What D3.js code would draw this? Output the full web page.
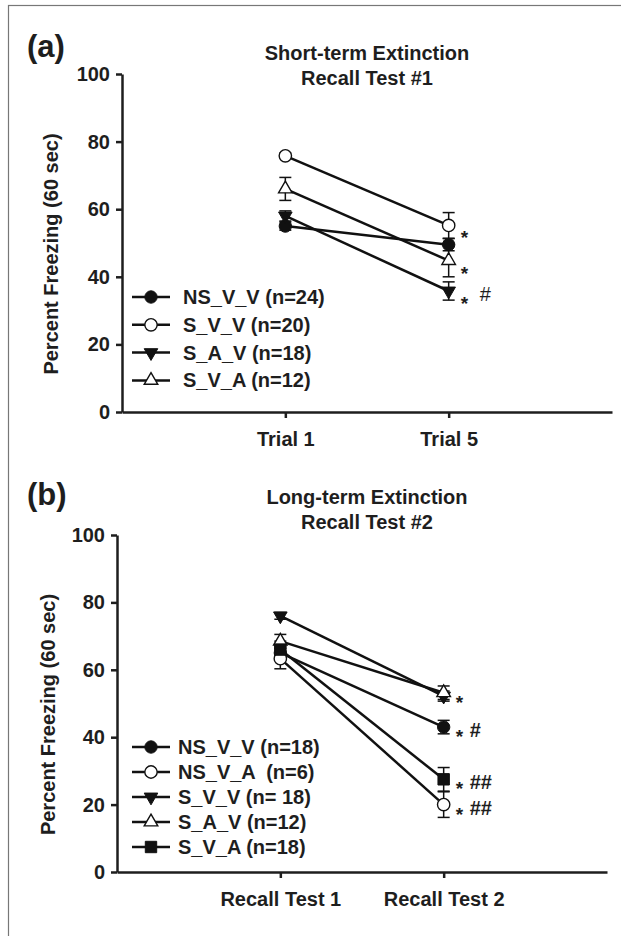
<!DOCTYPE html>
<html>
<head>
<meta charset="utf-8">
<script src="https://cdn.jsdelivr.net/npm/d3@7"></script>
<style>
  body { margin: 0; background: #fff; }
  text { font-family: "Liberation Sans", Arial, sans-serif; fill: #1e1e1e; }
</style>
</head>
<body>
<div id="fig"></div>
<script>
// panel (a) short-term
var trialsA = ["Trial 1", "Trial 5"];
var groupsA = ["NS_V_V (n=24)", "S_V_V (n=20)", "S_A_V (n=18)", "S_V_A (n=12)"];
var shapesA = ["circleFill", "circleOpen", "triDownFill", "triUpOpen"];
var meansA = [[55, 49.5], [75.8, 55.2], [58, 35.8], [66, 44.8]];
var semA = [[1.2, 1.8], [0.8, 3.8], [1.5, 2.7], [3.4, 4.8]];
var starsA = ["", "*", "*", "*"];
var hashA = ["", "", "#", ""];

// panel (b) long-term
var trialsB = ["Recall Test 1", "Recall Test 2"];
var groupsB = ["NS_V_V (n=18)", "NS_V_A  (n=6)", "S_V_V (n= 18)", "S_A_V (n=12)", "S_V_A (n=18)"];
var shapesB = ["circleFill", "circleOpen", "triDownFill", "triUpOpen", "squareFill"];
var meansB = [[65, 43], [63.3, 20], [76, 52.2], [68.5, 53.2], [66, 27.5]];
var semB = [[2, 2], [3, 3.8], [1, 1.5], [2, 2], [2.5, 3.5]];
var starsB = ["*", "*", "", "*", "*"];
var hashB = ["#", "##", "", "", "##"];

var yTicks = [0, 20, 40, 60, 80, 100];

var W = 621, H = 936;
var svg = d3.select("#fig").append("svg")
  .attr("width", W).attr("height", H);

// frame round the figure (right and bottom edges run off the page)
svg.append("rect")
  .attr("x", 8.5).attr("y", 5.5)
  .attr("width", 700).attr("height", 1000)
  .attr("fill", "none").attr("stroke", "#777").attr("stroke-width", 1.2);

function symbolPath(shape) {
  if (shape.indexOf("circle") == 0) return d3.symbol(d3.symbolCircle, 120)();
  if (shape.indexOf("square") == 0) return d3.symbol(d3.symbolSquare, 130)();
  return d3.symbol(d3.symbolTriangle, 80)();
}

function drawMarker(g, shape, cx, cy) {
  var open = shape.indexOf("Open") > 0;
  var rot = shape.indexOf("triDown") == 0 ? " rotate(180)" : "";
  g.append("path")
    .attr("d", symbolPath(shape))
    .attr("transform", "translate(" + cx + "," + cy + ")" + rot)
    .attr("fill", open ? "#fff" : "#111")
    .attr("stroke", "#111")
    .attr("stroke-width", open ? 1.4 : 1);
}

function drawPanel(p) {
  var g = svg.append("g");

  var x = d3.scaleLinear().domain([0, 3]).range([p.left, p.right]);
  var y = d3.scaleLinear().domain([0, 100]).range([p.bottom, p.top]);

  // axes
  var ya = g.append("g")
    .attr("transform", "translate(" + p.left + ",0)")
    .call(d3.axisLeft(y).tickValues(yTicks).tickSize(6).tickSizeOuter(0).tickPadding(6));
  var xa = g.append("g")
    .attr("transform", "translate(0," + p.bottom + ")")
    .call(d3.axisBottom(x).tickValues([1, 2]).tickSize(6).tickSizeOuter(0).tickPadding(14)
      .tickFormat(function(d) { return p.trials[d - 1]; }));
  [ya, xa].forEach(function(a) {
    a.selectAll("path, line").attr("stroke", "#1e1e1e").attr("stroke-width", 2.5);
    a.selectAll("text").attr("font-size", 20).attr("font-weight", "bold")
      .attr("font-family", "Liberation Sans, Arial, sans-serif").attr("fill", "#1e1e1e");
  });

  // axis title
  g.append("text")
    .attr("transform", "translate(" + p.ylabX + "," + ((p.top + p.bottom) / 2 + 11) + ") rotate(-90)")
    .attr("text-anchor", "middle")
    .attr("font-size", 20).attr("font-weight", "bold")
    .text("Percent Freezing (60 sec)");

  // panel letter and title
  g.append("text").attr("x", 27).attr("y", p.letterY)
    .attr("font-size", 31).attr("font-weight", "bold").text(p.letter);
  p.title.forEach(function(t, i) {
    g.append("text").attr("x", 367).attr("y", p.titleY + i * 24.5)
      .attr("text-anchor", "middle")
      .attr("font-size", 20).attr("font-weight", "bold").text(t);
  });

  // lines
  var line = d3.line().x(function(d, i) { return x(i + 1); }).y(function(d) { return y(d); });
  p.means.forEach(function(m) {
    g.append("path").attr("d", line(m))
      .attr("fill", "none").attr("stroke", "#111").attr("stroke-width", 2.5);
  });

  // error bars
  p.means.forEach(function(m, s) {
    m.forEach(function(v, i) {
      var e = p.sem[s][i], cx = x(i + 1);
      var eg = g.append("g").attr("stroke", "#111").attr("stroke-width", 1.5);
      eg.append("line").attr("x1", cx).attr("x2", cx).attr("y1", y(v - e)).attr("y2", y(v + e));
      [v - e, v + e].forEach(function(c) {
        eg.append("line").attr("x1", cx - 6).attr("x2", cx + 6).attr("y1", y(c)).attr("y2", y(c));
      });
    });
  });

  // markers
  p.means.forEach(function(m, s) {
    m.forEach(function(v, i) { drawMarker(g, p.shapes[s], x(i + 1), y(v)); });
  });

  // significance marks at the last point
  p.means.forEach(function(m, s) {
    var yy = y(m[1]);
    if (p.stars[s]) g.append("text").attr("x", x(2) + 12).attr("y", yy + p.starDy)
      .attr("font-size", 19).attr("font-weight", "bold").text(p.stars[s]);
    if (p.hash[s]) g.append("text").attr("x", x(2) + p.hashDx).attr("y", yy + 10)
      .attr("font-size", 20).attr("font-weight", p.hashBold ? "bold" : "normal").text(p.hash[s]);
  });

  // legend
  p.groups.forEach(function(name, i) {
    var ly = p.legY + i * p.legStep;
    g.append("line").attr("x1", 132).attr("x2", 170).attr("y1", ly).attr("y2", ly)
      .attr("stroke", "#111").attr("stroke-width", 2.5);
    drawMarker(g, p.shapes[i], 151, ly);
    g.append("text").attr("x", p.legTextX).attr("y", ly + 7)
      .attr("font-size", 20).attr("font-weight", "bold")
      .style("white-space", "pre").attr("xml:space", "preserve").text(name);
  });
}

drawPanel({
  letter: "(a)", letterY: 57,
  title: ["Short-term Extinction", "Recall Test #1"], titleY: 60,
  left: 122, right: 612, top: 74, bottom: 412, ylabX: 58,
  trials: trialsA, groups: groupsA, shapes: shapesA, means: meansA, sem: semA,
  stars: starsA, hash: hashA, starDy: 19, hashDx: 31, hashBold: false,
  legY: 297, legStep: 27.8, legTextX: 183
});

drawPanel({
  letter: "(b)", letterY: 505,
  title: ["Long-term Extinction", "Recall Test #2"], titleY: 504,
  left: 117, right: 607, top: 535, bottom: 872, ylabX: 55,
  trials: trialsB, groups: groupsB, shapes: shapesB, means: meansB, sem: semB,
  stars: starsB, hash: hashB, starDy: 16, hashDx: 26, hashBold: true,
  legY: 747, legStep: 25, legTextX: 178
});
</script>
</body>
</html>
